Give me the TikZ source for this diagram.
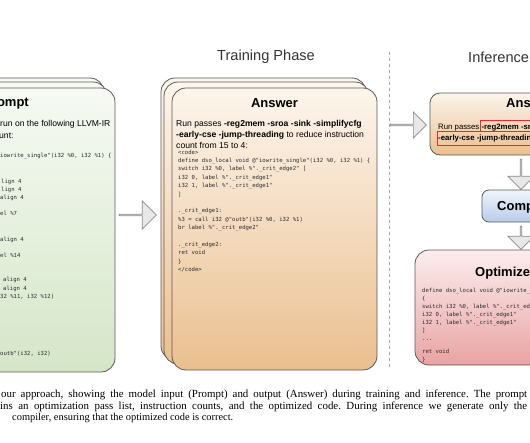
\documentclass[tikz,border=0pt]{standalone}
\usepackage{fontspec}
\setmainfont{Liberation Serif}
\setsansfont{Liberation Sans}
\setmonofont{DejaVu Sans Mono}
\usetikzlibrary{shapes.arrows}
\definecolor{cardline}{HTML}{5A5A5A}
\definecolor{grtop}{HTML}{F6FAF3}
\definecolor{grbot}{HTML}{D5E6C8}
\definecolor{ortop}{HTML}{FDF5EC}
\definecolor{orbot}{HTML}{EABF8F}
\definecolor{bltop}{HTML}{EFF5FC}
\definecolor{blbot}{HTML}{B7CCE9}
\definecolor{pktop}{HTML}{FCEDED}
\definecolor{pkbot}{HTML}{E9A3A3}
\definecolor{arrfill}{HTML}{E8E8E8}
\definecolor{arrline}{HTML}{8A8A8A}
\definecolor{hilite}{HTML}{E8282B}
\definecolor{codecol}{HTML}{2A2A2A}
\tikzset{
  card/.style={draw=cardline, line width=0.8pt, rounded corners=14pt},
  codeln/.style={anchor=base west, inner sep=0pt, font=\ttfamily\fontsize{5.6}{6.5}\selectfont, text=codecol},
  bodyln/.style={anchor=base west, inner sep=0pt, font=\sffamily\fontsize{8.6}{10}\selectfont},
  ttl/.style={inner sep=0pt, font=\sffamily\bfseries\fontsize{13}{15}\selectfont},
  phase/.style={inner sep=0pt, font=\sffamily\fontsize{14.6}{17}\selectfont, text=black!80},
  blockarrow/.style={single arrow, draw=arrline, fill=arrfill, line width=0.7pt, inner sep=0pt, single arrow head indent=0pt},
  capln/.style={anchor=base west, inner sep=0pt, font=\frenchspacing\fontsize{10.9}{12}\selectfont},
}
\begin{document}
\begin{tikzpicture}[x=1pt,y=-1pt]
\useasboundingbox (0,0) rectangle (530,442);

% ---------- phase titles and separator ----------
\node[phase, anchor=base] (ttrain) at (266,60) {Training Phase};
\node[phase, anchor=base west] (tinfer) at (468,62) {Inference Phase};
\coordinate (dtop) at (389,52);
\coordinate (dbot) at (389,368);
\draw[dashed, gray!70, line width=0.5pt] (dtop) -- (dbot);

% ---------- Prompt card stack ----------
\draw[card, top color=grtop, bottom color=grbot] (-131,78) rectangle (104,362);
\draw[card, top color=grtop, bottom color=grbot] (-128,82) rectangle (107,366);
\draw[card, top color=grtop, bottom color=grbot] (-120,88) rectangle (115,372);
\node[ttl, anchor=base east] (ptitle) at (29,106.5) {Prompt};
\node[bodyln] (pl1) at (0,126) {run on the following LLVM-IR};
\node[bodyln] (pl2) at (-1,138) {unt:};
\node[codeln] (pc1) at (0,157) {iowrite\_single"(i32 \%0, i32 \%1) \{};
\node[codeln] (pc2) at (1,183) {lign 4};
\node[codeln] (pc3) at (1,191) {lign 4};
\node[codeln] (pc4) at (0,199) {align 4};
\node[codeln] (pc5) at (0,215) {el \%7};
\node[codeln] (pc6) at (0,241) {align 4};
\node[codeln] (pc7) at (0,257) {el \%14};
\node[codeln] (pc8) at (3,281) {align 4};
\node[codeln] (pc9) at (3,290) {align 4};
\node[codeln] (pc10) at (0,298) {32 \%11, i32 \%12)};
\node[codeln] (pc11) at (0,355) {outb"(i32, i32)};

% ---------- Answer card stack (training) ----------
\draw[card, top color=ortop, bottom color=orbot] (161,78) rectangle (366,360);
\draw[card, top color=ortop, bottom color=orbot] (164,82) rectangle (369,364);
\draw[card, top color=ortop, bottom color=orbot] (172,88) rectangle (377,370);
\node[ttl, anchor=base] (atitle) at (274.5,107.5) {Answer};
\node[bodyln] (al1) at (176,126) {Run passes \textbf{-reg2mem -sroa -sink -simplifycfg}};
\node[bodyln] (al2) at (176,137) {\textbf{-early-cse -jump-threading} to reduce instruction};
\node[bodyln] (al3) at (176,148) {count from 15 to 4:};
\foreach \n/\t in {0/{<code>},
  1/{define dso\_local void @"iowrite\_single"(i32 \%0, i32 \%1) \{},
  2/{switch i32 \%0, label \%".\_crit\_edge2" [},
  3/{i32 0, label \%".\_crit\_edge1"},
  4/{i32 1, label \%".\_crit\_edge1"},
  5/{]},
  7/{.\_crit\_edge1:},
  8/{\%3 = call i32 @"outb"(i32 \%0, i32 \%1)},
  9/{br label \%".\_crit\_edge2"},
  11/{.\_crit\_edge2:},
  12/{ret void},
  13/{\}},
  14/{</code>}}
  \node[codeln] (ac\n) at (178,154+8.4*\n) {\t};

% ---------- arrows between phases ----------
\node[blockarrow, minimum height=37pt, minimum width=28pt, single arrow head extend=7pt] (arr1) at (137.5,215) {};
\node[blockarrow, minimum height=36pt, minimum width=26pt, single arrow head extend=6pt] (arr2) at (408,125) {};

% ---------- Inference: Answer ----------
\draw[card, rounded corners=10pt, top color=ortop, bottom color=orbot] (430,93) rectangle (625,155);
\node[ttl, anchor=base west] (ititle) at (506,107.5) {Answer};
\node[bodyln, font=\sffamily\fontsize{7.8}{9}\selectfont] (il1) at (438,129) {Run passes \textbf{-reg2mem -sroa -sink -simplifycfg}};
\node[bodyln, font=\sffamily\fontsize{7.8}{9}\selectfont] (il2) at (438,140.5) {\textbf{-early-cse -jump-threading}};
\draw[hilite, line width=0.8pt] (480,120) rectangle (640,131);
\draw[hilite, line width=0.8pt] (437,131) rectangle (640,145);

\node[blockarrow, rotate=-90, minimum height=30pt, minimum width=26pt, single arrow head extend=6.5pt] (arr3) at (521,174) {};

% ---------- Compiler ----------
\draw[card, rounded corners=7pt, top color=bltop, bottom color=blbot] (482,190) rectangle (570,222);
\node[ttl, anchor=base west] (comp) at (497,210.5) {Compiler};

\node[blockarrow, rotate=-90, minimum height=23pt, minimum width=26pt, single arrow head extend=6.5pt] (arr4) at (521,237.5) {};

% ---------- Optimized ----------
\draw[card, top color=pktop, bottom color=pkbot] (415,250) rectangle (640,365);
\node[ttl, anchor=base west] (otitle) at (475,276.5) {Optimized};
\node[codeln] (oc1) at (422,292) {define dso\_local void @"iowrite\_single"(i32 \%0, i32 \%1)};
\node[codeln] (oc2) at (422,300.5) {\{};
\node[codeln] (oc3) at (422,308.5) {switch i32 \%0, label \%".\_crit\_edge2" [};
\node[codeln] (oc4) at (422,316.5) {i32 0, label \%".\_crit\_edge1"};
\node[codeln] (oc5) at (422,324.5) {i32 1, label \%".\_crit\_edge1"};
\node[codeln] (oc6) at (422,332.5) {]};
\node[codeln] (oc7) at (422,340.5) {...};
\node[codeln] (oc8) at (422,353) {ret void};
\node[codeln] (oc9) at (422,361) {\}};

% ---------- caption ----------
\node[capln] (cap1) at (1,397) {\makebox[526pt][s]{our approach, showing the model input (Prompt) and output (Answer) during training and inference. The prompt}};
\node[capln] (cap2) at (0,409) {\makebox[527pt][s]{ins an optimization pass list, instruction counts, and the optimized code. During inference we generate only the}};
\node[capln, font=\frenchspacing\fontsize{10.4}{12}\selectfont] (cap3) at (12,420.5) {compiler, ensuring that the optimized code is correct.};
\end{tikzpicture}
\end{document}
